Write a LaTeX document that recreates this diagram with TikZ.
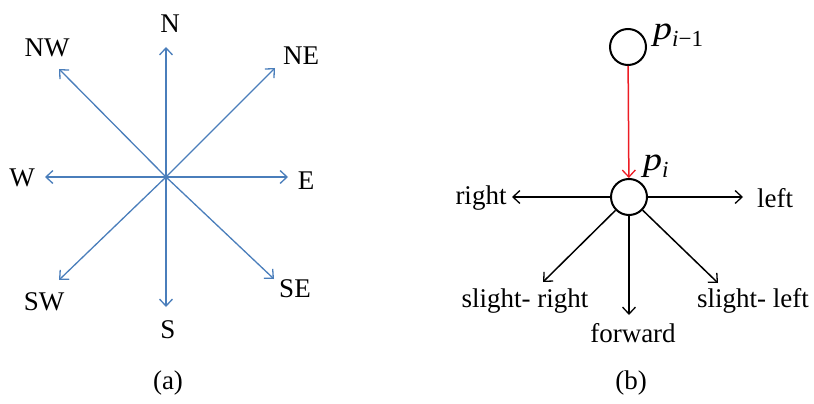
\documentclass[tikz,border=0pt]{standalone}
\usepackage{fontspec}
\usepackage{graphicx}
\setmainfont{Liberation Serif}
\usetikzlibrary{arrows.meta}
\definecolor{compblue}{RGB}{74,126,187}
\definecolor{arrred}{RGB}{237,28,36}
\newcommand{\ptlabel}[1]{\scalebox{1.15}[1]{\fontsize{33}{36}\selectfont\itshape p}\raisebox{-7pt}{\fontsize{23}{25}\selectfont #1}}
\tikzset{
  lbl/.style={font=\fontsize{27}{30}\selectfont, inner sep=0pt},
  barb/.style={-{Straight Barb[length=7pt,width=13pt,line width=1.3pt]}},
  bluearr/.style={barb, draw=compblue, line width=1.3pt},
  blackarr/.style={barb, draw=black, line width=1.5pt},
  redarr/.style={barb, draw=arrred, line width=1.5pt},
  pt/.style={circle, draw, line width=2pt, minimum size=36pt, inner sep=0pt}
}
\begin{document}
\begin{tikzpicture}[x=1pt,y=-1pt]
\useasboundingbox (0,0) rectangle (814,404);
% ---------- panel (a)
\coordinate (c) at (166,177);
\coordinate (tN) at (166,47);
\coordinate (tS) at (166,307);
\coordinate (tW) at (45,177);
\coordinate (tE) at (288,177);
\coordinate (tNE) at (275,68);
\coordinate (tNW) at (59,69);
\coordinate (tSW) at (59,280);
\coordinate (tSE) at (274,279);
\foreach \t in {tN,tS,tW,tE,tNE,tNW,tSW,tSE}
  \draw[bluearr] (c) -- (\t);
\node[lbl] (lN) at (170,24) {N};
\node[lbl] (lNW) at (47,48) {NW};
\node[lbl] (lNE) at (301,56) {NE};
\node[lbl] (lW) at (22,178) {W};
\node[lbl] (lE) at (306,181) {E};
\node[lbl] (lSW) at (44,302) {SW};
\node[lbl] (lSE) at (295,289) {SE};
\node[lbl] (lS) at (168,330) {S};
\node[lbl] (la) at (168,383) {(a)};
% ---------- panel (b)
\node[pt] (pp) at (628,47) {};
\node[pt] (pi) at (629,197) {};
\node[lbl, anchor=base west] (lpp) at (653,40) {\ptlabel{\textit{i}−1}};
\node[lbl, anchor=base west] (lpi) at (643,170) {\ptlabel{\textit{i}}};
\draw[redarr] (pp) -- (pi);
\coordinate (rt) at (512,197);
\coordinate (lt) at (743,197);
\coordinate (fw) at (629,315);
\coordinate (sr) at (543,282);
\coordinate (sl) at (718,283);
\draw[blackarr] (pi) -- (rt);
\draw[blackarr] (pi) -- (lt);
\draw[blackarr] (pi) -- (fw);
\draw[blackarr] (pi) -- (sr);
\draw[blackarr] (pi) -- (sl);
\node[lbl] (lrt) at (481,198) {right};
\node[lbl] (llt) at (775,198) {left};
\node[lbl] (lsr) at (525,301) {slight- right};
\node[lbl] (lsl) at (753,301) {slight- left};
\node[lbl] (lfw) at (633,333) {forward};
\node[lbl] (lb) at (631,383) {(b)};
\end{tikzpicture}
\end{document}
